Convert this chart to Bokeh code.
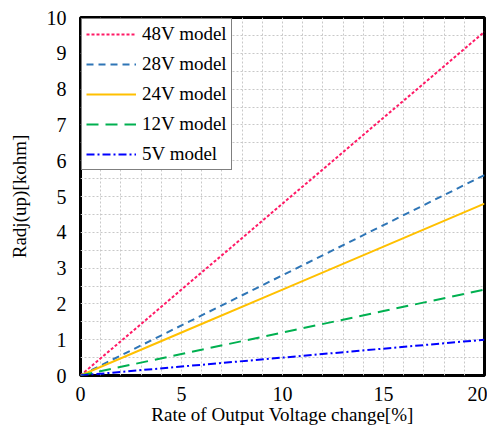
from bokeh.plotting import figure
from bokeh.models import Range1d, SingleIntervalTicker, FixedTicker, Legend, LegendItem
from bokeh.embed import file_html
from bokeh.resources import INLINE

x_vals = [0, 5, 10, 15, 20]
r48 = [0, 2.4, 4.8, 7.2, 9.6]
r28 = [0, 1.4, 2.8, 4.2, 5.6]
r24 = [0, 1.2, 2.4, 3.6, 4.8]
r12 = [0, 0.6, 1.2, 1.8, 2.4]
r5 = [0, 0.25, 0.5, 0.75, 1.0]
x_ticks = [0, 5, 10, 15, 20]
y_ticks = [0, 1, 2, 3, 4, 5, 6, 7, 8, 9, 10]

SERIF = "Liberation Serif"

p = figure(width=487, height=427, output_backend="svg", toolbar_location=None,
           x_range=Range1d(0, 20), y_range=Range1d(0, 10),
           min_border_left=80, min_border_right=3, min_border_top=17, min_border_bottom=46)

p.outline_line_color = "black"
p.outline_line_width = 3

p.xgrid.ticker = SingleIntervalTicker(interval=1)
p.ygrid.ticker = SingleIntervalTicker(interval=0.5)
for g in (p.xgrid, p.ygrid):
    g.grid_line_color = "#c8c8c8"
    g.grid_line_dash = "2 2"
    g.grid_line_width = 1

p.xaxis.ticker = FixedTicker(ticks=x_ticks)
p.yaxis.ticker = FixedTicker(ticks=y_ticks)
for ax in (p.xaxis, p.yaxis):
    ax.axis_line_color = None
    ax.major_tick_line_color = None
    ax.minor_tick_line_color = None
    ax.major_label_text_font = SERIF
    ax.major_label_text_font_size = "20px"
    ax.major_label_text_color = "black"
    ax.axis_label_text_font = SERIF
    ax.axis_label_text_font_size = "19px"
    ax.axis_label_text_font_style = "normal"
    ax.axis_label_text_color = "black"
p.xaxis.axis_label = "Rate of Output Voltage change[%]"
p.yaxis.axis_label = "Radj(up)[kohm]"
p.xaxis.major_label_standoff = 5
p.yaxis.major_label_standoff = 8
p.xaxis.axis_label_standoff = 0
p.yaxis.axis_label_standoff = 14

l48 = p.line(x_vals, r48, line_color="#ff1a66", line_width=2, line_dash="3 2")
l28 = p.line(x_vals, r28, line_color="#2e75b6", line_width=2, line_dash="7 5")
l24 = p.line(x_vals, r24, line_color="#ffc000", line_width=2)
l12 = p.line(x_vals, r12, line_color="#00b050", line_width=2, line_dash="12 7")
l5 = p.line(x_vals, r5, line_color="#0000ff", line_width=2, line_dash="8 3 2 3")

legend = Legend(items=[
    LegendItem(label="48V model", renderers=[l48]),
    LegendItem(label="28V model", renderers=[l28]),
    LegendItem(label="24V model", renderers=[l24]),
    LegendItem(label="12V model", renderers=[l12]),
    LegendItem(label="5V model", renderers=[l5]),
], location="top_left")
legend.label_text_font = SERIF
legend.label_text_font_size = "19px"
legend.label_text_color = "black"
legend.glyph_width = 50
legend.glyph_height = 20
legend.label_height = 20
legend.spacing = 8
legend.padding = 4
legend.margin = 1
legend.border_line_color = "black"
legend.border_line_width = 1
legend.background_fill_alpha = 1
legend.label_standoff = 6
p.add_layout(legend)

open("out.html", "w").write(file_html(p, INLINE))
